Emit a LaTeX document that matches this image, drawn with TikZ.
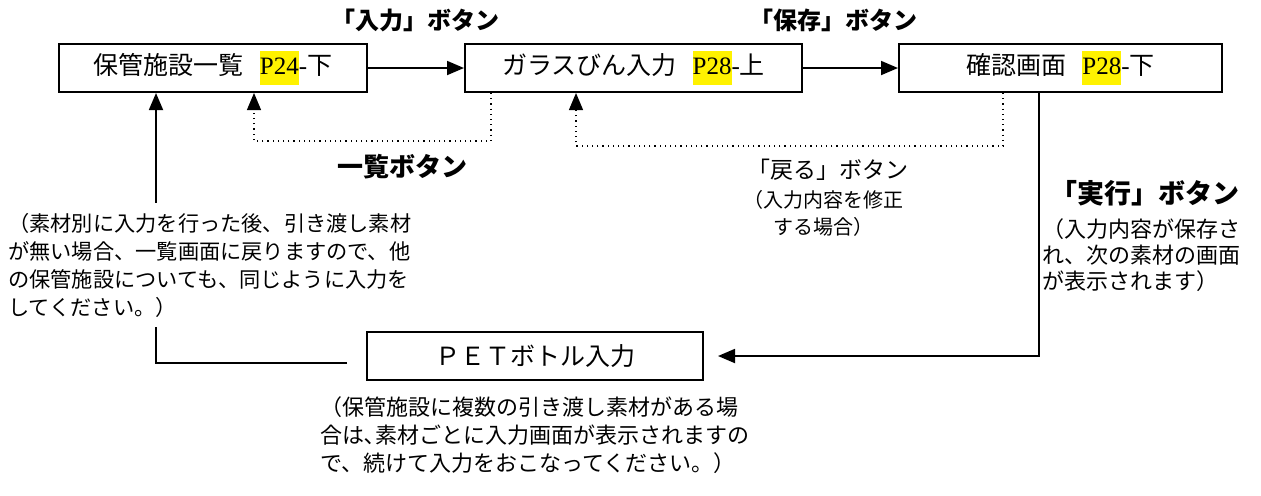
\documentclass[tikz,border=0pt]{standalone}
\usepackage{fontspec}
\setmainfont{Liberation Serif}
\newfontfamily\jp{Noto Sans CJK JP}
\usetikzlibrary{arrows.meta,calc}

\newcommand{\pgmark}[1]{{\setlength{\fboxsep}{0pt}\colorbox{yellow}{\rmfamily\strut #1}}}

\tikzset{
  screen/.style={draw, line width=1pt, minimum height=24pt, inner sep=0pt},
  flow/.style={line width=0.9pt, -{Triangle[length=8.5pt,width=7pt]}},
  back/.style={line width=0.6pt, dotted, -{Triangle[length=8.5pt,width=7pt]}},
  btn/.style={font=\jp\fontsize{12pt}{14pt}\selectfont\bfseries},
  note/.style={font=\jp\fontsize{11pt}{13pt}\selectfont, align=left, inner sep=1pt}
}

\begin{document}
\begin{tikzpicture}[x=0.5pt, y=-0.5pt, font=\jp\fontsize{12.5pt}{17pt}\selectfont]
\useasboundingbox (0,0) rectangle (1261,495);

% screens
\node[screen, minimum width=154pt] (list) at (213,68) {保管施設一覧\hspace{8pt}\pgmark{P24}{\rmfamily -}下};
\node[screen, minimum width=168.5pt] (glass) at (633.5,68) {ガラスびん入力\hspace{8pt}\pgmark{P28}{\rmfamily -}上};
\node[screen, minimum width=161.5pt] (check) at (1060.5,68) {確認画面\hspace{8pt}\pgmark{P28}{\rmfamily -}下};
\node[screen, minimum width=168pt] (pet) at (535,356) {ＰＥＴボトル入力};

% forward
\draw[flow] (list) -- (glass);
\draw[flow] (glass) -- (check);

% back (dotted)
\draw[back] ($(glass.south west)+(27,0)$) -- ++(0,48) -| ($(list.south west)+(196,0)$);
\draw[back] ($(check.south west)+(105,0)$) -- ++(0,53) -| ($(glass.south west)+(112,0)$);

% execute, return to list
\draw[flow, shorten >=7pt] ($(check.south west)+(141,0)$) |- (pet.east);
\draw[flow, shorten <=9.5pt] ([yshift=-3.5pt]pet.west) -| ($(list.south west)+(98,0)$);

% labels
\node[btn] (inputbtn) at (415,20) {「入力」ボタン};
\node[btn] (savebtn) at (833,20) {「保存」ボタン};
\node[btn, font=\jp\fontsize{13pt}{15pt}\selectfont\bfseries] (listbtn) at (402,167) {一覧ボタン};
\node[font=\jp\fontsize{11.5pt}{14pt}\selectfont] (backbtn) at (828,170) {「戻る」ボタン};
\node[note, align=center, font=\jp\fontsize{10pt}{13.5pt}\selectfont] (backnote) at (823,213) {（入力内容を修正\\する場合）};
\node[btn, font=\jp\fontsize{13.5pt}{15pt}\selectfont\bfseries] (execbtn) at (1145,193) {「実行」ボタン};
\node[note, anchor=west] (execnote) at (1040,255) {（入力内容が保存さ\\れ、次の素材の画面\\が表示されます）};
\node[note, anchor=west, fill=white, inner ysep=5pt, font=\jp\fontsize{10.6pt}{14pt}\selectfont] (listnote) at (6,265) {（素材別に入力を行った後、引き渡し素材\\が無い場合、一覧画面に戻りますので、他\\の保管施設についても、同じように入力を\\してください。）};
\node[note, font=\jp\fontsize{11pt}{14pt}\selectfont] (petnote) at (535,435) {（保管施設に複数の引き渡し素材がある場\\合は､素材ごとに入力画面が表示されますの\\で、続けて入力をおこなってください。）};

\end{tikzpicture}
\end{document}
